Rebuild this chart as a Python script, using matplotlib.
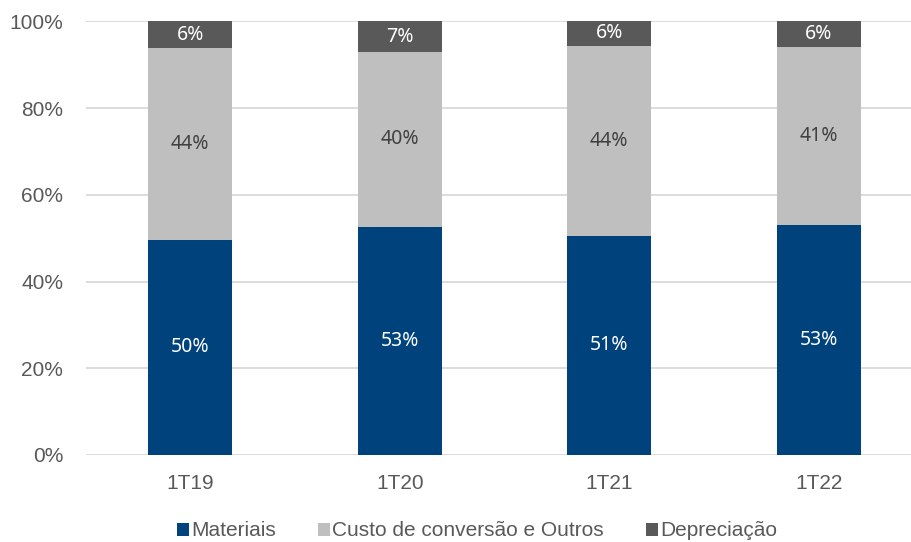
import numpy as np
import matplotlib.pyplot as plt

periods = ['1T19', '1T20', '1T21', '1T22']
materiais = [49.6, 52.6, 50.6, 53.0]
conversao = [44.3, 40.3, 43.8, 41.1]
depreciacao = [6.1, 7.1, 5.6, 5.9]

series = ['Materiais', 'Custo de conversão e Outros', 'Depreciação']
colors = ['#00437C', '#BFBFBF', '#595959']
label_colors = ['white', '#404040', 'white']

fig = plt.figure(figsize=(9.11, 5.42), dpi=100)
ax = fig.add_axes([85.5 / 911, 1 - 455 / 542, 1 - 85.5 / 911, (455 - 21.3) / 542])

x = np.arange(len(periods))
width = 0.4
bottom = np.zeros(len(periods))
for name, vals, col, lcol in zip(series, [materiais, conversao, depreciacao], colors, label_colors):
    vals = np.array(vals)
    bars = ax.bar(x, vals, width, bottom=bottom, color=col, label=name, zorder=3)
    for b, v, b0 in zip(bars, vals, bottom):
        ax.text(b.get_x() + b.get_width() / 2, b0 + v / 2, '{:.0f}%'.format(v),
                ha='center', va='center', color=lcol, fontsize=14, family='Noto Sans', zorder=4)
    bottom += vals

ax.set_xlim(-0.5, -0.5 + 825.5 / 209.5)
ax.set_ylim(0, 100)
ax.set_yticks(np.arange(0, 101, 20))
ax.set_yticklabels(['{}%'.format(v) for v in range(0, 101, 20)])
ax.set_xticks(x)
ax.set_xticklabels(periods)
ax.yaxis.grid(True, color='#D9D9D9', linewidth=1.3, zorder=0)
ax.set_axisbelow(True)
for s in ax.spines.values():
    s.set_visible(False)
ax.tick_params(axis='both', length=0, labelsize=15, labelcolor='#595959')
ax.tick_params(axis='x', pad=14)
ax.tick_params(axis='y', pad=16)
for lbl in ax.get_xticklabels() + ax.get_yticklabels():
    lbl.set_family('Liberation Sans')

leg = fig.legend(loc='center', bbox_to_anchor=(477 / 911, 1 - 531 / 542), ncol=3, frameon=False,
                 handlelength=0.6, handleheight=0.6, handletextpad=0.1, columnspacing=2.0,
                 prop={'family': 'Liberation Sans', 'size': 15})
for t in leg.get_texts():
    t.set_color('#595959')

fig.savefig('out.png', dpi=100)
